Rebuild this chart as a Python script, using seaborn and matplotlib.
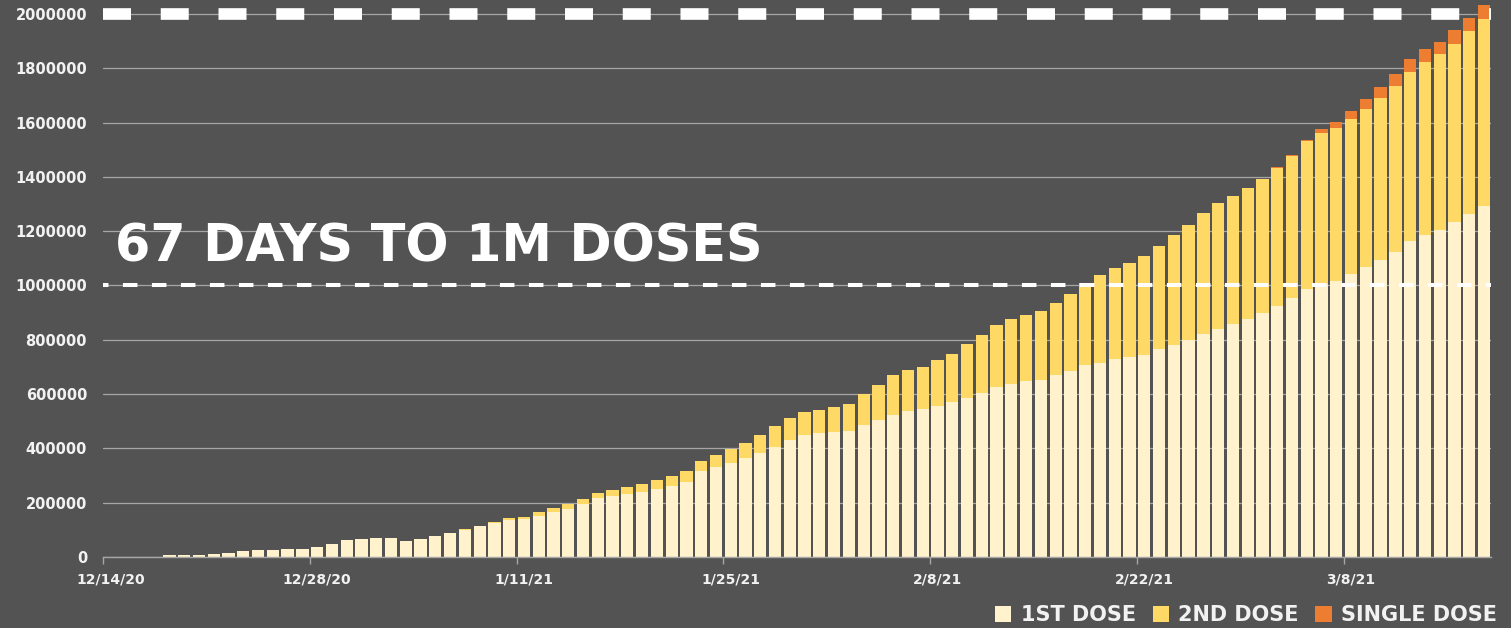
import numpy as np
import pandas as pd
import matplotlib
matplotlib.use("Agg")
import matplotlib.pyplot as plt
import seaborn as sns
from matplotlib.patches import Patch

# ---- data (doses, in thousands) ----
dates = pd.date_range("2020-12-14", "2021-03-17", freq="D")
date_labels = [f"{d.month}/{d.day}/{d.year % 100}" for d in dates]

first_dose_k = [0, 0, 0, 0, 6, 6, 6, 10, 16, 22, 25, 25, 28, 29, 36, 47, 61, 65, 69, 71,
                60, 65, 76, 87, 100, 113, 124, 137, 140, 152, 164, 176, 195, 216, 223, 232, 240, 250, 263, 278,
                317, 331, 347, 363, 384, 404, 430, 450, 455, 461, 464, 485, 504, 524, 538, 544, 557, 570, 586, 603,
                626, 637, 647, 653, 669, 684, 706, 716, 728, 735, 745, 767, 782, 800, 820, 841, 857, 877, 898, 924,
                955, 986, 1006, 1018, 1042, 1067, 1094, 1122, 1163, 1187, 1203, 1233, 1265, 1294]
second_dose_k = [0] * 20 + \
                [0, 0, 1, 1, 2, 3, 5, 6, 8, 12, 16, 19, 20, 21, 22, 25, 28, 32, 35, 38,
                 38, 43, 50, 56, 64, 78, 83, 84, 88, 92, 101, 117, 130, 147, 151, 154, 170, 179, 197, 213,
                 229, 238, 245, 254, 265, 285, 305, 324, 337, 349, 365, 379, 403, 424, 447, 464, 474, 483, 493, 510,
                 523, 546, 557, 562, 571, 583, 598, 611, 623, 637, 648, 658, 671, 687]
single_dose_k = [0] * 78 + [1, 1, 3, 5, 15, 21, 29, 36, 39, 45, 47, 47, 47, 50, 51, 52]

y_ticks = list(range(0, 2000001, 200000))
x_tick_idx = list(range(0, 94, 14))
series_names = ["1ST DOSE", "2ND DOSE", "SINGLE DOSE"]
colors = ["#FFF2CC", "#FFD966", "#ED7D31"]
goal_1m = 1000000
goal_2m = 2000000
headline = "67 DAYS TO 1M DOSES"

df = pd.DataFrame({
    "date": date_labels,
    "first": np.array(first_dose_k) * 1000,
    "second": np.array(second_dose_k) * 1000,
    "single": np.array(single_dose_k) * 1000,
})
df["lvl1"] = df["first"]
df["lvl2"] = df["first"] + df["second"]
df["lvl3"] = df["lvl2"] + df["single"]

BG = "#525352"
TXT = "#F2F2F2"
GRID = "#A6A6A6"

sns.set_theme(style="white")
plt.rcParams["font.family"] = ["DejaVu Sans"]

fig = plt.figure(figsize=(15.11, 6.28), dpi=100, facecolor=BG)
ax = fig.add_axes([103 / 1511, 71 / 628, (1491.4 - 103) / 1511, 557 / 628])
ax.set_facecolor(BG)

for col, c in zip(["lvl3", "lvl2", "lvl1"], colors[::-1]):
    sns.barplot(data=df, x="date", y=col, color=c, saturation=1, width=0.83,
                linewidth=0, ax=ax, errorbar=None)

ax.set_xlim(-0.5, len(df) - 0.5)
ax.set_ylim(0, 2051500)
ax.set_axisbelow(True)
ax.set_yticks(y_ticks)
ax.set_yticklabels([str(v) for v in y_ticks])
ax.yaxis.grid(True, color=GRID, linewidth=0.9)
ax.xaxis.grid(False)
ax.set_xticks(x_tick_idx)
ax.set_xticklabels([date_labels[i] for i in x_tick_idx])
ax.set_xticks([i - 0.5 for i in x_tick_idx], minor=True)
ax.tick_params(axis="x", which="major", length=0, pad=11, labelsize=10, labelcolor=TXT)
ax.tick_params(axis="x", which="minor", length=5, width=1, color=GRID, bottom=True)
ax.tick_params(axis="y", length=0, pad=11.5, labelsize=10.5, labelcolor=TXT)
for lab in ax.get_xticklabels() + ax.get_yticklabels():
    lab.set_fontweight("bold")
ax.set_xlabel("")
ax.set_ylabel("")
for s in ["top", "right", "left"]:
    ax.spines[s].set_visible(False)
ax.spines["bottom"].set_color(GRID)
ax.spines["bottom"].set_linewidth(1)

# goal lines
ax.axhline(goal_2m, color="white", linewidth=8.4, linestyle=(0, (2.4, 2.55)),
           dash_capstyle="butt", zorder=5)
ax.axhline(goal_1m, color="white", linewidth=2.9, linestyle=(2.25, (3.6, 3.6)),
           dash_capstyle="butt", zorder=5)

fig.text(115 / 1511, 1 - 261 / 628, headline, color="white", fontsize=36.5,
         fontweight="bold", va="baseline", ha="left", zorder=10)

handles = [Patch(facecolor=c, edgecolor="none") for c in colors]
leg = fig.legend(handles, series_names, loc="center right",
                 bbox_to_anchor=(1497 / 1511, 1 - 615 / 628), ncol=3, frameon=False,
                 handlelength=0.78, handleheight=0.78, handletextpad=0.45,
                 columnspacing=0.8, borderpad=0, borderaxespad=0,
                 prop={"weight": "bold", "size": 15})
for t in leg.get_texts():
    t.set_color(TXT)

fig.savefig("out.png", dpi=100, facecolor=BG)
